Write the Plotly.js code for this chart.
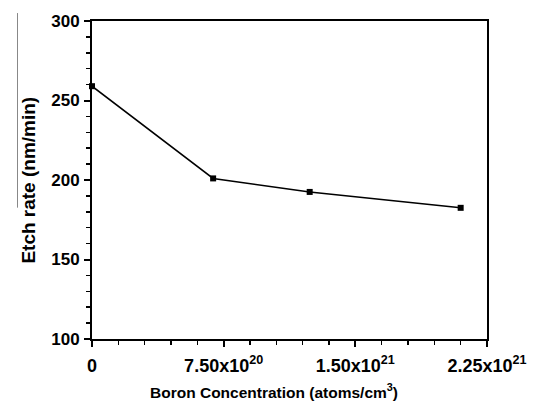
<!DOCTYPE html>
<html>
<head>
<meta charset="utf-8">
<script src="https://cdn.plot.ly/plotly-3.0.1.min.js"></script>
<style>html,body{margin:0;padding:0;background:#fff;}#chart{width:534px;height:403px;}</style>
</head>
<body>
<div id="chart"></div>
<script>
var boronConc = [0, 6.9e20, 1.24e21, 2.1e21];
var etchRate = [259, 201, 192.5, 182.5];
var xTickVals = [0, 7.5e20, 1.5e21, 2.25e21];
var xTickText = ['<b>0</b>', '<b>7.50x10<sup>20</sup></b>', '<b>1.50x10<sup>21</sup></b>', '<b>2.25x10<sup>21</sup></b>'];
var yTickVals = [100, 150, 200, 250, 300];
var yTickText = ['<b>100</b>', '<b>150</b>', '<b>200</b>', '<b>250</b>', '<b>300</b>'];
var xTitle = '<b>Boron Concentration (atoms/cm<sup>3</sup>)</b>';
var yTitle = '<b>Etch rate (nm/min)</b>';

var fontFam = 'Liberation Sans, Arial, sans-serif';
var trace = {
  x: boronConc, y: etchRate, type: 'scatter', mode: 'lines+markers',
  line: {color: '#000', width: 1.5},
  marker: {symbol: 'square', size: 6, color: '#000'},
  cliponaxis: false
};
var layout = {
  width: 534, height: 403,
  margin: {l: 92, r: 47, t: 21, b: 64},
  paper_bgcolor: '#fff', plot_bgcolor: '#fff',
  showlegend: false,
  font: {family: fontFam, color: '#000'},
  xaxis: {
    range: [0, 2.25e21], tickmode: 'array', tickvals: xTickVals, ticktext: xTickText,
    ticks: 'outside', ticklen: 6, tickwidth: 2, tickcolor: '#000', ticklabelstandoff: 3,
    showline: true, linecolor: '#000', linewidth: 2, mirror: true,
    showgrid: false, zeroline: false,
    tickfont: {family: fontFam, size: 18, color: '#000'},
    minor: {dtick: 1.5e20, ticks: 'outside', ticklen: 4, tickwidth: 1.5, tickcolor: '#000', showgrid: false}
  },
  yaxis: {
    range: [100, 300], tickmode: 'array', tickvals: yTickVals, ticktext: yTickText,
    ticks: 'outside', ticklen: 6, tickwidth: 2, tickcolor: '#000', ticklabelstandoff: 1,
    showline: true, linecolor: '#000', linewidth: 2, mirror: true,
    showgrid: false, zeroline: false,
    tickfont: {family: fontFam, size: 17, color: '#000'},
    minor: {dtick: 10, ticks: 'outside', ticklen: 4, tickwidth: 1.5, tickcolor: '#000', showgrid: false}
  },
  annotations: [{
    text: xTitle, xref: 'paper', yref: 'paper',
    x: 0.142, y: -0.165, xanchor: 'left', yanchor: 'middle', showarrow: false,
    font: {family: fontFam, size: 15.5, color: '#000'}
  }, {
    text: yTitle, xref: 'paper', yref: 'paper', textangle: -90,
    x: -0.163, y: 0.5, xanchor: 'center', yanchor: 'middle', showarrow: false,
    font: {family: fontFam, size: 19, color: '#000'}
  }],
  shapes: [{
    type: 'line', xref: 'paper', yref: 'paper', x0: -0.1886, x1: -0.1886, y0: 1.025, y1: 0.413,
    line: {color: '#888', width: 1}
  }]
};
Plotly.newPlot('chart', [trace], layout, {displayModeBar: false, staticPlot: true});
</script>
</body>
</html>
